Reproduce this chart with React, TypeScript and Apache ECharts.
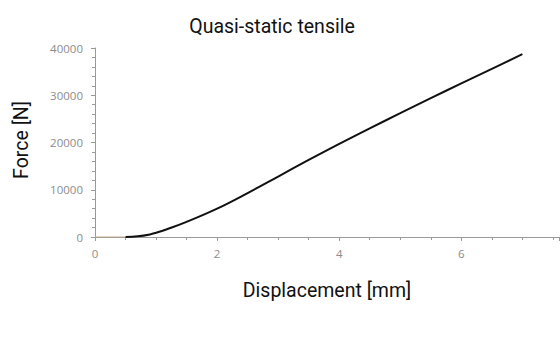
import React, { useEffect, useRef } from "react";
import * as echarts from "echarts";

const titleText = "Quasi-static tensile";
const xName = "Displacement [mm]";
const yName = "Force [N]";
const displacement = [0.5, 0.7, 0.9, 1.0, 1.2, 1.5, 2.0, 2.5, 3.0, 3.5, 4.0, 4.5, 5.0, 5.5, 6.0, 6.5, 7.0];
const force = [0, 150, 550, 900, 1750, 3200, 6000, 9300, 12800, 16300, 19700, 23000, 26200, 29400, 32500, 35600, 38700];
const leadX = [0, 0.5];
const leadY = [0, 0];

export default function App() {
  const ref = useRef<HTMLDivElement>(null);
  useEffect(() => {
    document.body.style.margin = "0";
    const chart = echarts.init(ref.current!, null, { renderer: "svg" });
    const labelStyle = { color: "#8c8c8c", fontSize: 11.5, fontFamily: "Open Sans" };
    chart.setOption({
      animation: false,
      backgroundColor: "#ffffff",
      title: {
        text: titleText,
        left: 267,
        top: 11,
        textAlign: "center",
        textStyle: { fontFamily: "Roboto", fontWeight: "normal", fontSize: 19.5, color: "#111" },
      },
      graphic: [
        {
          type: "text",
          x: 21,
          y: 140,
          rotation: Math.PI / 2,
          style: {
            text: yName,
            fontFamily: "Roboto",
            fontSize: 19.5,
            fill: "#111",
            textAlign: "center",
            textVerticalAlign: "middle",
          },
        },
      ],
      grid: { left: 95, right: 1, top: 48, bottom: 122, containLabel: false },
      xAxis: {
        type: "value",
        min: 0,
        max: 7.6,
        interval: 2,
        name: xName,
        nameLocation: "middle",
        nameGap: 43,
        nameTextStyle: { fontFamily: "Roboto", fontSize: 19.5, color: "#111" },
        axisLine: { show: true, lineStyle: { color: "#9a9a9a", width: 1 } },
        axisTick: { show: true, length: 4, inside: false, lineStyle: { color: "#9a9a9a" } },
        minorTick: { show: true, splitNumber: 4, length: 3, lineStyle: { color: "#9a9a9a" } },
        axisLabel: { ...labelStyle, margin: 10, showMaxLabel: false, formatter: (v: number) => String(v) },
        splitLine: { show: false },
      },
      yAxis: {
        type: "value",
        min: 0,
        max: 40000,
        interval: 10000,
        axisLine: { show: true, lineStyle: { color: "#9a9a9a", width: 1 } },
        axisTick: { show: true, length: 4, lineStyle: { color: "#9a9a9a" } },
        minorTick: { show: true, splitNumber: 5, length: 3, lineStyle: { color: "#9a9a9a" } },
        axisLabel: { ...labelStyle, margin: 12, formatter: (v: number) => String(v) },
        splitLine: { show: false },
      },
      series: [
        {
          type: "line",
          data: leadX.map((x, i) => [x, leadY[i]]),
          showSymbol: false,
          lineStyle: { color: "#c9ad85", width: 1 },
          z: 1,
        },
        {
          type: "line",
          data: displacement.map((x, i) => [x, force[i]]),
          showSymbol: false,
          smooth: 0.4,
          lineStyle: { color: "#111111", width: 2 },
          z: 3,
        },
      ],
    });
    return () => chart.dispose();
  }, []);
  return <div ref={ref} style={{ width: 560, height: 359 }} />;
}
